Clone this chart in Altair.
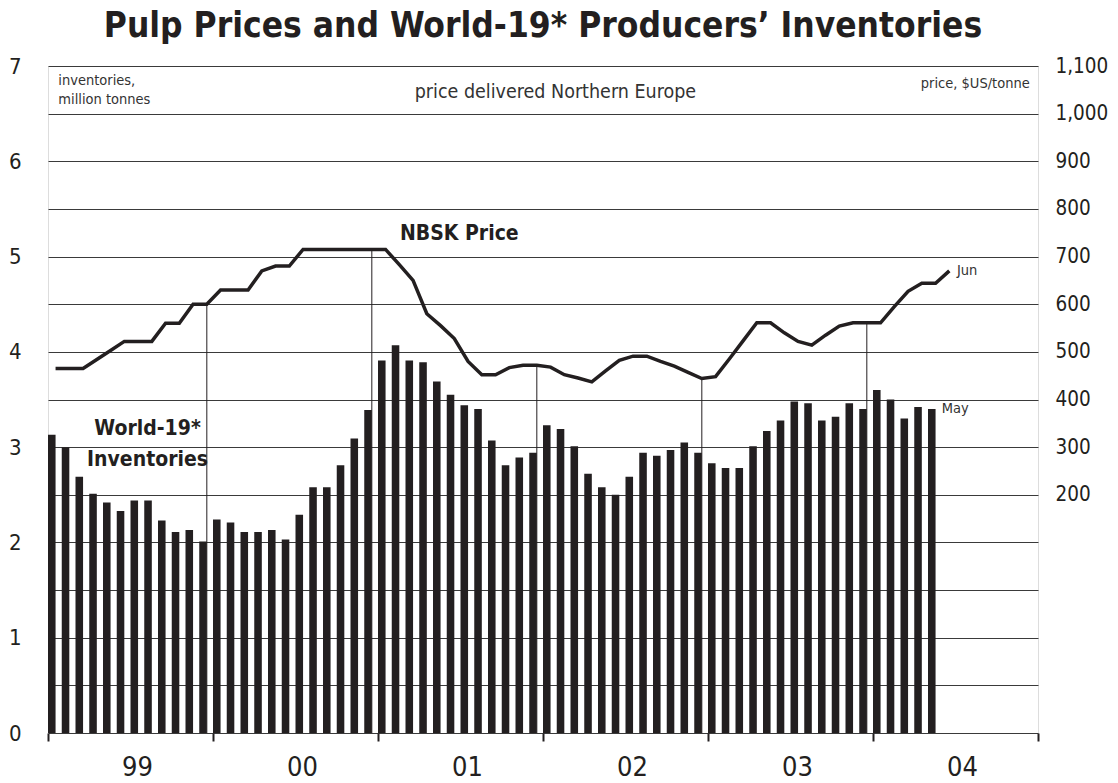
import altair as alt
import pandas as pd

FONT = "DejaVu Sans Condensed, Liberation Sans, sans-serif"
INK = "#231f20"

# Monthly World-19 producers' inventories, million tonnes, Jan 1999 - May 2004
inventory = [3.13, 3.00, 2.69, 2.51, 2.42, 2.33, 2.44, 2.44, 2.23, 2.11, 2.13, 2.01,
             2.24, 2.21, 2.11, 2.11, 2.13, 2.03, 2.29, 2.58, 2.58, 2.81, 3.09, 3.39,
             3.91, 4.07, 3.91, 3.89, 3.69, 3.55, 3.44, 3.40, 3.07, 2.81, 2.89, 2.94,
             3.23, 3.19, 3.01, 2.72, 2.58, 2.50, 2.69, 2.94, 2.91, 2.97, 3.05, 2.94,
             2.83, 2.78, 2.78, 3.01, 3.17, 3.28, 3.48, 3.46, 3.28, 3.32, 3.46, 3.40,
             3.60, 3.50, 3.30, 3.42, 3.40]

# Monthly NBSK price delivered Northern Europe, $US/tonne, Jan 1999 - Jun 2004
price = [465, 465, 465, 484, 503, 522, 522, 522, 560, 560, 600, 600,
         630, 630, 630, 670, 680, 680, 715, 715, 715, 715, 715, 715,
         715, 683, 650, 580, 555, 528, 480, 452, 452, 467, 472, 472,
         468, 452, 445, 437, 460, 482, 491, 491, 480, 470, 457, 444,
         448, 485, 523, 561, 561, 540, 522, 514, 535, 554, 561, 561,
         561, 595, 627, 644, 644, 670]

year_labels = ["99", "00", "01", "02", "03", "04"]
december_idx = [11, 23, 35, 47, 59]

# annotations (x in months from Jan 1999, y in inventory units)
ann_text = ["inventories,", "million tonnes", "price delivered Northern Europe",
            "price, $US/tonne", "NBSK Price", "World-19*", "Inventories", "Jun", "May"]
ann_x = [0.75, 0.75, 36.9, 71.4, 25.6, 7.24, 7.24, 66.1, 65.0]
ann_y = [6.84, 6.64, 6.73, 6.81, 5.24, 3.19, 2.87, 4.85, 3.40]

BAR_W = 0.55
inv_df = pd.DataFrame({"m": list(range(len(inventory))), "inv": inventory})
inv_df["m2"] = inv_df["m"] + BAR_W
price_df = pd.DataFrame({"m": [i + BAR_W for i in range(len(price))], "price": price})
dec_df = price_df.iloc[december_idx].reset_index(drop=True)
ann_df = pd.DataFrame({"t": ann_text, "x": ann_x, "y": ann_y, "k": list(range(len(ann_text)))})

xscale = alt.Scale(domain=[0, 72], nice=False, zero=False)
inv_scale = alt.Scale(domain=[0, 7], nice=False)
price_scale = alt.Scale(domain=[-300, 1100], nice=False)

year_array = "[" + ",".join("'" + y + "'" for y in year_labels) + "]"

x_axis = alt.Axis(
    values=list(range(0, 73, 6)),
    labelExpr="datum.value % 12 == 6 ? " + year_array + "[floor(datum.value / 12)] : ''",
    tickOpacity={"condition": {"test": "datum.value % 12 == 0", "value": 1}, "value": 0},
    tickSize=8, tickWidth=2, tickColor=INK, domain=False, grid=False,
    labelFont=FONT, labelFontSize=27, labelColor=INK, labelPadding=13, labelOffset=6.5,
    labelOverlap=False, labelFlush=False, title=None,
)

left_axis = alt.Axis(
    values=[v / 2 for v in range(0, 15)],
    labelExpr="datum.value % 1 == 0 ? format(datum.value, 'd') : ''",
    grid=True, gridColor="#3a3a3a", gridWidth=1, ticks=False, domain=False,
    labelFont=FONT, labelFontSize=22, labelColor=INK, labelPadding=27,
    labelOverlap=False, title=None, orient="left",
)

right_axis = alt.Axis(
    values=list(range(200, 1101, 100)),
    labelExpr="format(datum.value, ',d')",
    grid=False, ticks=False, domain=False,
    labelFont=FONT, labelFontSize=20.5, labelColor=INK, labelPadding=17,
    labelOverlap=False, title=None, orient="right",
)

bars = alt.Chart(inv_df).mark_rect(color=INK).encode(
    x=alt.X("m:Q", scale=xscale, axis=x_axis),
    x2="m2:Q",
    y=alt.Y("inv:Q", scale=inv_scale, axis=left_axis),
    y2=alt.datum(0),
)

ann_base = alt.Chart(ann_df).encode(
    x=alt.X("x:Q", scale=xscale),
    y=alt.Y("y:Q", scale=inv_scale),
    text="t:N",
)

def pick(ids):
    return alt.FieldOneOfPredicate(field="k", oneOf=ids)

small_left = ann_base.transform_filter(pick([0, 1, 7, 8])).mark_text(
    align="left", baseline="middle", font=FONT, fontSize=14.5, color="#333333")
small_right = ann_base.transform_filter(pick([3])).mark_text(
    align="right", baseline="middle", font=FONT, fontSize=14.5, color="#333333")
sub_center = ann_base.transform_filter(pick([2])).mark_text(
    align="center", baseline="middle", font=FONT, fontSize=19.5, color="#333333")
bold_left = ann_base.transform_filter(pick([4])).mark_text(
    align="left", baseline="middle", font=FONT, fontSize=21, fontWeight="bold", color=INK)
bold_center = ann_base.transform_filter(pick([5, 6])).mark_text(
    align="center", baseline="middle", font=FONT, fontSize=21, fontWeight="bold", color=INK)

inv_layer = alt.layer(bars, small_left, small_right, sub_center, bold_left, bold_center)

line = alt.Chart(price_df).mark_line(color=INK, strokeWidth=3.5, strokeJoin="miter").encode(
    x=alt.X("m:Q", scale=xscale),
    y=alt.Y("price:Q", scale=price_scale, axis=right_axis),
)

rules = alt.Chart(dec_df).mark_rule(color=INK, strokeWidth=1).encode(
    x=alt.X("m:Q", scale=xscale),
    y=alt.Y("price:Q", scale=price_scale),
    y2=alt.datum(-300),
)

price_layer = alt.layer(rules, line)

chart = alt.layer(inv_layer, price_layer).resolve_scale(y="independent").properties(
    width=990,
    height=667,
    autosize=alt.AutoSizeParams(type="none"),
    padding={"left": 40, "top": 58, "right": 72, "bottom": 50},
    title=alt.TitleParams(
        "Pulp Prices and World-19* Producers\u2019 Inventories",
        font=FONT, fontSize=35, fontWeight="bold", color=INK,
        anchor="middle", offset=11,
    ),
).configure_view(stroke=INK, strokeWidth=2).configure(background="white")

chart.save("out.html", embed_options={"renderer": "svg", "actions": False})
